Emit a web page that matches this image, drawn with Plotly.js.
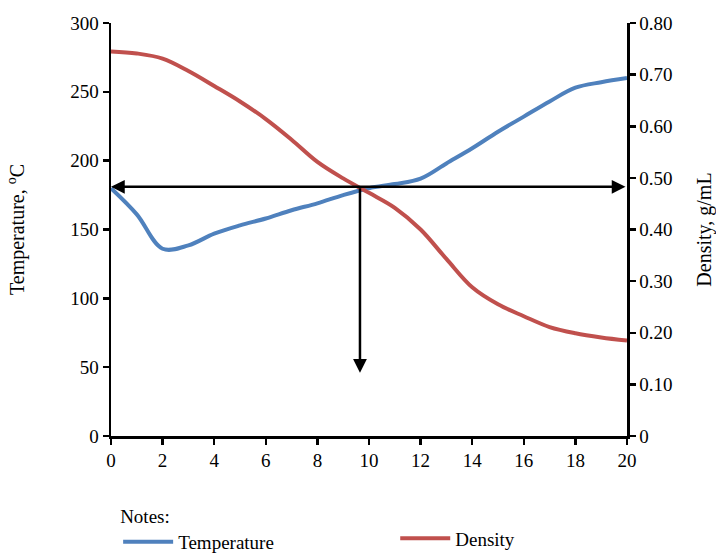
<!DOCTYPE html>
<html>
<head>
<meta charset="utf-8">
<script src="https://cdn.plot.ly/plotly-3.0.1.min.js"></script>
<style>html,body{margin:0;padding:0;background:#fff}#chart{width:716px;height:556px}</style>
</head>
<body>
<div id="chart"></div>
<script>
const xValues = [0,1,2,3,4,5,6,7,8,9,10,11,12,13,14,15,16,17,18,19,20];
const temperature = [180,161,136,138.5,147,153,158,164,169,175,180,183,187,198,209,221,232,243,253,257,260];
const density = [0.745,0.741,0.731,0.707,0.678,0.648,0.614,0.574,0.531,0.499,0.471,0.442,0.400,0.343,0.288,0.255,0.232,0.211,0.199,0.191,0.185];
const xTickVals = [0,2,4,6,8,10,12,14,16,18,20];
const yTickVals = [0,50,100,150,200,250,300];
const y2TickVals = [0,0.1,0.2,0.3,0.4,0.5,0.6,0.7,0.8];
const y2TickText = ["0","0.10","0.20","0.30","0.40","0.50","0.60","0.70","0.80"];
const guideX = 9.65;      // x of the vertical guide
const guideTemp = 181;    // temperature level of the horizontal guide
const guideBottom = 46;   // temperature where the vertical arrow ends

const font = {family: "Liberation Serif, Times New Roman, serif", color: "#000", size: 19};

const traces = [
  {x: xValues, y: temperature, name: "Temperature", type: "scatter", mode: "lines", legend: "legend",
   line: {color: "#4F81BD", width: 4, shape: "spline", smoothing: 1}, yaxis: "y"},
  {x: xValues, y: density, name: "Density", type: "scatter", mode: "lines", legend: "legend2",
   line: {color: "#C0504D", width: 4, shape: "spline", smoothing: 1}, yaxis: "y2"}
];

const axisCommon = {
  showgrid: false, zeroline: false,
  showline: true, linecolor: "#000", linewidth: 2.5,
  ticks: "outside", ticklen: 6, tickwidth: 2.5, tickcolor: "#000",
  tickfont: {size: 19}, automargin: false
};

const layout = {
  width: 716, height: 556,
  margin: {l: 111, r: 89, t: 23, b: 120},
  paper_bgcolor: "#fff", plot_bgcolor: "#fff",
  font: font,
  showlegend: true,
  legend: {
    orientation: "h", xref: "container", yref: "container",
    x: 0.165, xanchor: "left", y: 0.104, yanchor: "top",
    title: {text: "Notes:", side: "top", font: {size: 19}},
    font: {size: 19}, itemwidth: 50, bgcolor: "rgba(0,0,0,0)"
  },
  legend2: {
    orientation: "h", xref: "container", yref: "container",
    x: 0.552, xanchor: "left", y: 0.066, yanchor: "top",
    font: {size: 19}, itemwidth: 50, bgcolor: "rgba(0,0,0,0)"
  },
  xaxis: Object.assign({}, axisCommon, {range: [0, 20], tickvals: xTickVals}),
  yaxis: Object.assign({}, axisCommon, {
    range: [0, 300], tickvals: yTickVals,
    title: {text: "Temperature, <sup>o</sup>C", font: {size: 20}, standoff: 40}
  }),
  yaxis2: Object.assign({}, axisCommon, {
    range: [0, 0.8], tickvals: y2TickVals, ticktext: y2TickText,
    overlaying: "y", side: "right",
    title: {text: "Density, g/mL", font: {size: 20}, standoff: 26}
  }),
  annotations: [
    {x: 0, y: guideTemp, ax: 20, ay: guideTemp, xref: "x", yref: "y", axref: "x", ayref: "y",
     text: "", showarrow: true, arrowhead: 2, arrowside: "end+start", arrowsize: 1.1, arrowwidth: 2.5, arrowcolor: "#000"},
    {x: guideX, y: guideBottom, ax: guideX, ay: guideTemp, xref: "x", yref: "y", axref: "x", ayref: "y",
     text: "", showarrow: true, arrowhead: 2, arrowsize: 1.1, arrowwidth: 2.5, arrowcolor: "#000"}
  ]
};

Plotly.newPlot("chart", traces, layout, {displayModeBar: false, staticPlot: true});
</script>
</body>
</html>
